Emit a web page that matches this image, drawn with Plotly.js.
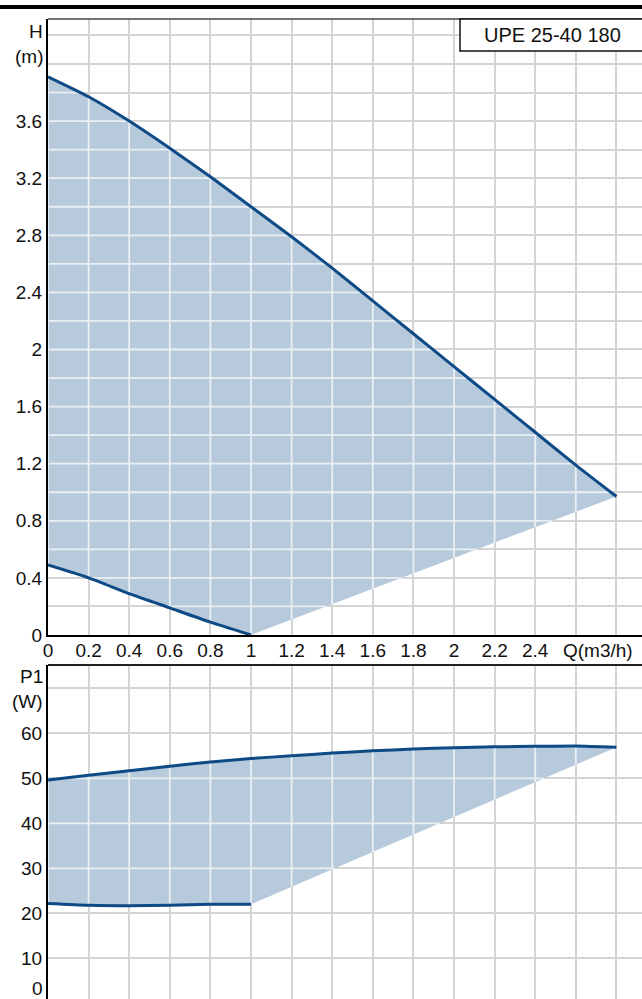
<!DOCTYPE html>
<html><head><meta charset="utf-8">
<script src="https://cdn.plot.ly/plotly-3.0.1.min.js"></script>
<style>html,body{margin:0;padding:0;overflow:hidden;background:#fff}</style>
</head><body><div id="chart" style="width:642px;height:1010px"></div>
<script>
// ---- data ----
const flow = [0, 0.2, 0.4, 0.6, 0.8, 1.0, 1.2, 1.4, 1.6, 1.8, 2.0, 2.2, 2.4, 2.6, 2.8];
const headMax = [3.91, 3.77, 3.60, 3.41, 3.21, 3.00, 2.79, 2.57, 2.34, 2.11, 1.88, 1.65, 1.42, 1.19, 0.97];
const flowMin = [0, 0.2, 0.4, 0.6, 0.8, 1.0];
const headMin = [0.49, 0.40, 0.29, 0.19, 0.09, 0.0];
const powerMax = [49.6, 50.7, 51.7, 52.7, 53.6, 54.4, 55.0, 55.6, 56.1, 56.5, 56.8, 57.0, 57.1, 57.2, 56.9];
const powerMin = [22.2, 21.8, 21.7, 21.8, 22.0, 22.0];
const xTickVals = [0, 0.2, 0.4, 0.6, 0.8, 1, 1.2, 1.4, 1.6, 1.8, 2, 2.2, 2.4];
const hTickVals = [0, 0.4, 0.8, 1.2, 1.6, 2, 2.4, 2.8, 3.2, 3.6];
const pTickVals = [10, 20, 30, 40, 50, 60];
const pZeroLabel = '0';
const titleText = 'UPE 25-40 180';
const hLabel = ['H', '(m)'];
const pLabel = ['P1', '(W)'];
const qLabel = 'Q(m3/h)';

// ---- styling ----
const W = 642, H = 1010, L = 48;
const fontFam = '"Liberation Sans", Arial, Helvetica, sans-serif';
const font = {family: fontFam, size: 19, color: '#111'};
const titleFont = {family: fontFam, size: 20, color: '#111'};
const gridColor = '#d4d4d4';
const innerGrid = '#eaeff4';
const fillColor = '#b7cadb';
const lineColor = '#0d4a86';
const px2x = p => (p - L) / (W - L);
const py2y = p => (H - p) / H;

function steps(a, b, s) { const r = []; for (let k = 0; a + k * s <= b + 1e-9; k++) r.push(+(a + k * s).toFixed(4)); return r; }
function polygon(xu, yu, xl, yl) {
  return {x: xu.concat(xl.slice().reverse()), y: yu.concat(yl.slice().reverse())};
}
function clipGrid(poly, vals, vertical) {
  const xs = [], ys = [], n = poly.x.length;
  vals.forEach(c => {
    const hits = [];
    for (let i = 0; i < n; i++) {
      const j = (i + 1) % n;
      const a = vertical ? poly.x[i] : poly.y[i], b = vertical ? poly.x[j] : poly.y[j];
      if ((a <= c) !== (b <= c)) {
        const t = (c - a) / (b - a);
        hits.push(vertical ? poly.y[i] + t * (poly.y[j] - poly.y[i]) : poly.x[i] + t * (poly.x[j] - poly.x[i]));
      }
    }
    hits.sort((p, q) => p - q);
    for (let k = 0; k + 1 < hits.length; k += 2) {
      if (vertical) { xs.push(c, c, null); ys.push(hits[k], hits[k + 1], null); }
      else { xs.push(hits[k], hits[k + 1], null); ys.push(c, c, null); }
    }
  });
  return {x: xs, y: ys};
}

const xRange = [0, 2.926];
const hRange = [0, 4.315];
const pRange = [-1.49, 75.18];
const xGrid = steps(0, 2.8, 0.2);
const hGrid = steps(0, 4.2, 0.2);
const pGrid = steps(0, 70, 10);

const polyH = polygon(flow, headMax, flowMin, headMin);
const polyP = polygon(flow, powerMax, flowMin, powerMin);
const gH1 = clipGrid(polyH, xGrid, true), gH2 = clipGrid(polyH, hGrid, false);
const gP1 = clipGrid(polyP, xGrid, true), gP2 = clipGrid(polyP, pGrid, false);

function fillTrace(p, xa, ya) {
  return {x: p.x, y: p.y, xaxis: xa, yaxis: ya, type: 'scatter', mode: 'lines', fill: 'toself',
    fillcolor: fillColor, line: {width: 0, color: fillColor}, hoverinfo: 'skip'};
}
function gridTrace(g1, g2, xa, ya) {
  return {x: g1.x.concat(g2.x), y: g1.y.concat(g2.y), xaxis: xa, yaxis: ya, type: 'scatter', mode: 'lines',
    line: {width: 1.8, color: innerGrid}, connectgaps: false, hoverinfo: 'skip'};
}
function curve(x, y, xa, ya) {
  return {x: x, y: y, xaxis: xa, yaxis: ya, type: 'scatter', mode: 'lines',
    line: {width: 3, color: lineColor, shape: 'spline', smoothing: 0.6}, hoverinfo: 'skip'};
}

const traces = [
  fillTrace(polyH, 'x', 'y'), gridTrace(gH1, gH2, 'x', 'y'),
  curve(flow, headMax, 'x', 'y'), curve(flowMin, headMin, 'x', 'y'),
  fillTrace(polyP, 'x2', 'y2'), gridTrace(gP1, gP2, 'x2', 'y2'),
  curve(flow, powerMax, 'x2', 'y2'), curve(flowMin, powerMin, 'x2', 'y2')
];

const topDom = [py2y(635), py2y(19)];
const botDom = [0, py2y(665)];
const minorX = {tickmode: 'linear', tick0: 0, dtick: 0.2, showgrid: true, gridcolor: gridColor, gridwidth: 2, ticks: ''};

const ann = (text, x, y, xanchor, f) => ({text: text, xref: 'paper', yref: 'paper', x: x, y: y,
  xanchor: xanchor, yanchor: 'middle', showarrow: false, font: f || font});

const layout = {
  width: W, height: H, margin: {l: L, r: 0, t: 0, b: 0},
  paper_bgcolor: '#fff', plot_bgcolor: '#fff', showlegend: false, font: font,
  xaxis: {domain: [0, 1], anchor: 'y', range: xRange, tickmode: 'array', tickvals: xTickVals,
    showgrid: true, gridcolor: gridColor, gridwidth: 2, minor: minorX, zeroline: false,
    showline: true, linecolor: '#000', linewidth: 2, ticks: '', tickfont: font, ticklabelstandoff: -3, fixedrange: true},
  yaxis: {domain: topDom, anchor: 'x', range: hRange, tickmode: 'array', tickvals: hTickVals,
    showgrid: true, gridcolor: gridColor, gridwidth: 2,
    minor: {tickmode: 'linear', tick0: 0, dtick: 0.2, showgrid: true, gridcolor: gridColor, gridwidth: 2, ticks: ''},
    zeroline: false, showline: true, linecolor: '#000', linewidth: 2, ticks: '', tickfont: font, fixedrange: true},
  xaxis2: {domain: [0, 1], anchor: 'y2', range: xRange, tickmode: 'array', tickvals: xTickVals,
    showticklabels: false, showgrid: true, gridcolor: gridColor, gridwidth: 2, minor: minorX,
    zeroline: false, showline: false, ticks: '', fixedrange: true},
  yaxis2: {domain: botDom, anchor: 'x2', range: pRange, tickmode: 'array', tickvals: pTickVals,
    showgrid: true, gridcolor: gridColor, gridwidth: 2,
    minor: {tickmode: 'linear', tick0: 0, dtick: 10, showgrid: true, gridcolor: gridColor, gridwidth: 2, ticks: ''},
    zeroline: false, showline: true, linecolor: '#000', linewidth: 2, ticks: '', tickfont: font, fixedrange: true},
  shapes: [
    {type: 'rect', xref: 'paper', yref: 'paper', x0: -0.2, x1: 1.2, y0: py2y(9), y1: py2y(5), fillcolor: '#000', line: {width: 0}},
    {type: 'line', xref: 'paper', yref: 'paper', x0: 0, x1: 1.05, y0: topDom[1], y1: topDom[1], line: {color: '#444', width: 1.5}},
    {type: 'line', xref: 'paper', yref: 'paper', x0: 0, x1: 1.05, y0: botDom[1], y1: botDom[1], line: {color: '#222', width: 2}},
    {type: 'rect', xref: 'paper', yref: 'paper', x0: px2x(460), x1: 1.05, y0: py2y(51), y1: topDom[1], fillcolor: '#fff', line: {color: '#111', width: 1.5}}
  ],
  annotations: [
    ann(titleText, px2x(552.5), py2y(34.5), 'center', titleFont),
    ann(hLabel[0], px2x(45), py2y(31.5), 'right'),
    ann(hLabel[1], px2x(45), py2y(56), 'right'),
    ann(pLabel[0], px2x(45), py2y(677), 'right'),
    ann(pLabel[1], px2x(45), py2y(701), 'right'),
    ann(qLabel, px2x(598), py2y(650), 'center'),
    ann(pZeroLabel, px2x(45), py2y(988), 'right')
  ]
};

Plotly.newPlot('chart', traces, layout, {displayModeBar: false, staticPlot: true});
</script>
</body></html>
